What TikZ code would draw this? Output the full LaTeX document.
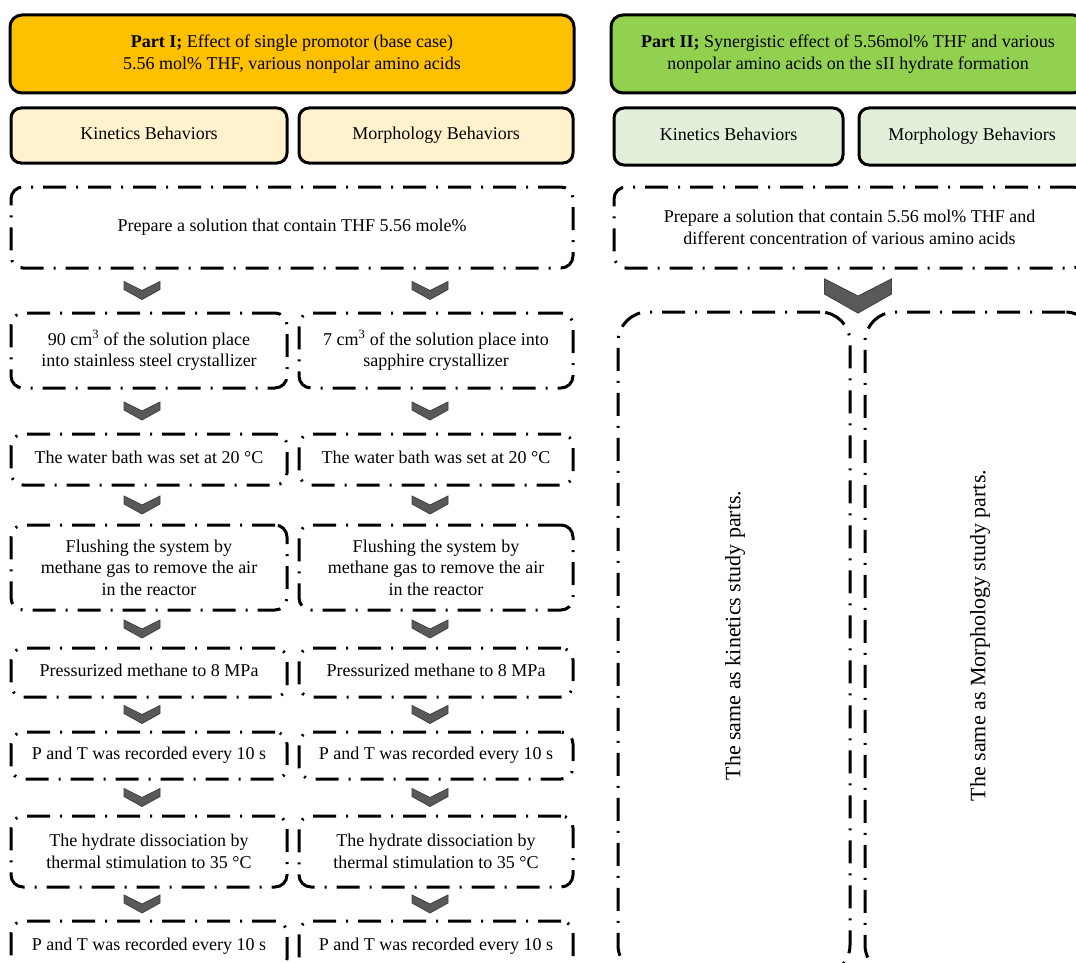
\documentclass[tikz,border=0pt]{standalone}
\usepackage{fontspec}
\setmainfont{Liberation Serif}
\usetikzlibrary{calc}
\definecolor{partone}{HTML}{FFC000}
\definecolor{kinone}{HTML}{FFF2CC}
\definecolor{parttwo}{HTML}{92D050}
\definecolor{kintwo}{HTML}{E2EFDA}
\definecolor{chevgray}{HTML}{595959}
\newcommand\mystrut{\rule[-4pt]{0pt}{16pt}}
\tikzset{
  base/.style={font=\fontsize{18}{21.6}\selectfont, align=center, inner sep=0pt, line width=3pt},
  headbox/.style={base, draw, rounded corners=12pt},
  subbox/.style={base, draw, rounded corners=10pt},
  stepbox/.style={base, draw, rounded corners=12pt, dash pattern=on 23pt off 10pt on 2pt off 10pt},
  bigbox/.style={stepbox, rounded corners=30pt},
  bigtext/.style={font=\fontsize{22}{26}\selectfont, rotate=90, inner sep=0pt},
  lcol/.style={minimum width=276pt},
  rcol/.style={minimum width=274pt},
  chev/.pic={\filldraw[fill=chevgray, draw=black!75, line width=0.8pt]
     (-18,-9) -- (0,0) -- (18,-9) -- (18,-1) -- (0,9) -- (-18,-1) -- cycle;},
}
\begin{document}
\begin{tikzpicture}[x=1pt,y=-1pt]
\useasboundingbox (0,0) rectangle (1076,963);
\clip (0,0) rectangle (1076,963);

% Part I header
\node[headbox, fill=partone, minimum width=564pt, minimum height=78pt] (p1) at (292,54)
  {\textbf{Part I;} Effect of single promotor (base case)\\5.56 mol\% THF, various nonpolar amino acids};
\node[subbox, fill=kinone, lcol, minimum height=55pt] (k1) at (149,135.5) {\mystrut Kinetics Behaviors};
\node[subbox, fill=kinone, rcol, minimum height=55pt] (m1) at (436,135.5) {\mystrut Morphology Behaviors};

% Part II header
\node[headbox, fill=parttwo, minimum width=474pt, minimum height=78pt] (p2) at (848,54)
  {\textbf{Part II;} Synergistic effect of 5.56mol\% THF and various\\nonpolar amino acids on the sII hydrate formation};
\node[subbox, fill=kintwo, minimum width=229pt, minimum height=57pt] (k2) at (728.5,136.5) {\mystrut Kinetics Behaviors};
\node[subbox, fill=kintwo, minimum width=226pt, minimum height=57pt] (m2) at (972,136.5) {\mystrut Morphology Behaviors};

% Prepare boxes
\node[stepbox, minimum width=562pt, minimum height=81pt] (s0) at (292,227.5)
  {\mystrut Prepare a solution that contain THF 5.56 mole\%};
\node[stepbox, minimum width=471pt, minimum height=81pt] (t0) at (849.5,227.5)
  {Prepare a solution that contain 5.56 mol\% THF and\\different concentration of various amino acids};

% Left column steps
\node[stepbox, lcol, minimum height=75pt] (a1) at (149,350.5)
  {90 cm\textsuperscript{3} of the solution place\\into stainless steel crystallizer};
\node[stepbox, lcol, minimum height=51pt] (b1) at (149,459.5) {\mystrut The water bath was set at 20 °C};
\node[stepbox, lcol, minimum height=85pt] (c1) at (149,567.5)
  {Flushing the system by\\methane gas to remove the air\\in the reactor};
\node[stepbox, lcol, minimum height=49pt] (d1) at (149,672.5) {\mystrut Pressurized methane to 8 MPa};
\node[stepbox, lcol, minimum height=47pt] (e1) at (149,755.5) {\mystrut P and T was recorded every 10 s};
\node[stepbox, lcol, minimum height=71pt] (f1) at (149,851.5)
  {The hydrate dissociation by\\thermal stimulation to 35 °C};
\node[stepbox, lcol, minimum height=50pt] (g1) at (149,946) {\mystrut P and T was recorded every 10 s};

% Right column steps
\node[stepbox, rcol, minimum height=75pt] (a2) at (436,350.5)
  {7 cm\textsuperscript{3} of the solution place into\\sapphire crystallizer};
\node[stepbox, rcol, minimum height=51pt] (b2) at (436,459.5) {\mystrut The water bath was set at 20 °C};
\node[stepbox, rcol, minimum height=85pt] (c2) at (436,567.5)
  {Flushing the system by\\methane gas to remove the air\\in the reactor};
\node[stepbox, rcol, minimum height=49pt] (d2) at (436,672.5) {\mystrut Pressurized methane to 8 MPa};
\node[stepbox, rcol, minimum height=47pt] (e2) at (436,755.5) {\mystrut P and T was recorded every 10 s};
\node[stepbox, rcol, minimum height=71pt] (f2) at (436,851.5)
  {The hydrate dissociation by\\thermal stimulation to 35 °C};
\node[stepbox, rcol, minimum height=50pt] (g2) at (436,946) {\mystrut P and T was recorded every 10 s};

% Part II big boxes
\node[bigbox, minimum width=232pt, minimum height=663pt] (bl) at (734,643.5) {};
\node[bigbox, minimum width=230pt, minimum height=663pt] (br) at (980,643.5) {};
\node[bigtext] (blt) at ($(bl.center)+(1,-8)$) {The same as kinetics study parts.};
\node[bigtext] (brt) at ($(br.center)+(0,-8)$) {The same as Morphology study parts.};

% Chevrons, left column
\pic at ($(a1.north)!0.5!(a1.north |- s0.south)+(-7,0)$) {chev};
\pic at ($(a1.south)!0.5!(b1.north)+(-7,0)$) {chev};
\pic at ($(b1.south)!0.5!(c1.north)+(-7,0)$) {chev};
\pic at ($(c1.south)!0.5!(d1.north)+(-7,0)$) {chev};
\pic at ($(d1.south)!0.5!(e1.north)+(-7,0)$) {chev};
\pic at ($(e1.south)!0.5!(f1.north)+(-7,0)$) {chev};
\pic at ($(f1.south)!0.5!(g1.north)+(-7,0)$) {chev};
% Chevrons, right column
\pic at ($(a2.north)!0.5!(a2.north |- s0.south)+(-6,0)$) {chev};
\pic at ($(a2.south)!0.5!(b2.north)+(-6,0)$) {chev};
\pic at ($(b2.south)!0.5!(c2.north)+(-6,0)$) {chev};
\pic at ($(c2.south)!0.5!(d2.north)+(-6,0)$) {chev};
\pic at ($(d2.south)!0.5!(e2.north)+(-6,0)$) {chev};
\pic at ($(e2.south)!0.5!(f2.north)+(-6,0)$) {chev};
\pic at ($(f2.south)!0.5!(g2.north)+(-6,0)$) {chev};
% Big chevron, Part II
\pic[xscale=1.86, yscale=1.9] at (858,296) {chev};
\end{tikzpicture}
\end{document}
